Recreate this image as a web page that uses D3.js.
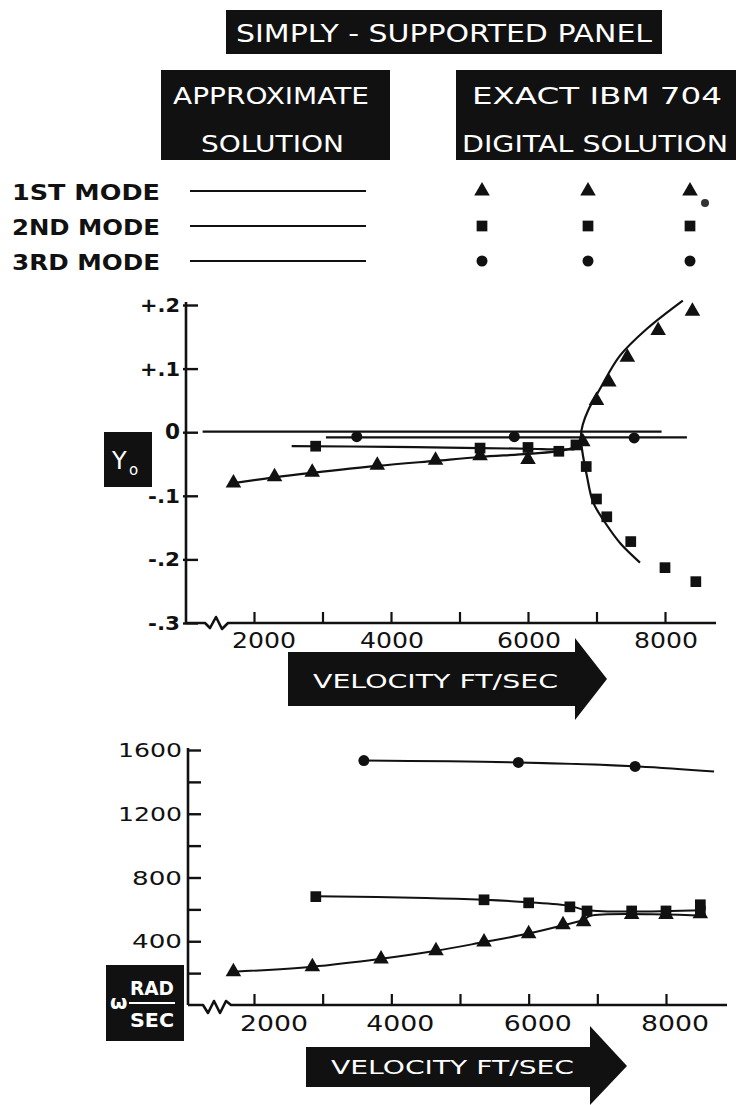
<!DOCTYPE html>
<html><head><meta charset="utf-8">
<script src="https://cdn.jsdelivr.net/npm/d3@7"></script>
<style>body{margin:0;background:#fff}text{font-family:"DejaVu Sans",sans-serif}</style>
</head><body>
<svg id="c" width="736" height="1105"></svg>
<script>
// ---------------- DATA ----------------
const velTicks = [2000, 3000, 4000, 5000, 6000, 7000, 8000];
const velLabels = [2000, 4000, 6000, 8000];
const y0Ticks = [0.2, 0.1, 0, -0.1, -0.2, -0.3];
const y0TickLabels = ["+.2", "+.1", "0", "-.1", "-.2", "-.3"];
const omegaTicks = [200, 400, 600, 800, 1000, 1200, 1400, 1600];
const omegaLabelVals = [400, 800, 1200, 1600];
const modeNames = ["1ST MODE", "2ND MODE", "3RD MODE"];

// Top chart: Y0 vs velocity (approximate solution lines)
const zeroLineTop = [[1250, 0.001], [7950, 0.001]];
const approx3Top = [[3050, -0.008], [8320, -0.008]];
const approx1Top = [[1700, -0.080], [2300, -0.071], [2850, -0.064], [3800, -0.053], [4650, -0.045],
  [5300, -0.039], [6000, -0.034], [6500, -0.029], [6700, -0.022], [6775, -0.008]];
const approx2Top = [[2550, -0.022], [4000, -0.023], [5300, -0.025], [6000, -0.026], [6500, -0.027],
  [6700, -0.026], [6778, -0.018]];
// coalesced branch (1st mode upper, 2nd mode lower)
const branchTop = [[8260, 0.207], [7740, 0.163], [7340, 0.120], [7050, 0.068], [6880, 0.035],
  [6800, 0.012], [6772, -0.006], [6790, -0.028], [6860, -0.069], [6950, -0.110], [7125, -0.142],
  [7350, -0.175], [7635, -0.205]];
// exact (IBM 704) points
const tri1Top = [[1700, -0.080], [2300, -0.070], [2850, -0.063], [3800, -0.052], [4650, -0.044],
  [5300, -0.037], [6000, -0.043], [6800, -0.015], [7000, 0.050], [7180, 0.079], [7450, 0.118], [7900, 0.160], [8400, 0.190]];
const sq2Top = [[2900, -0.022], [5300, -0.025], [6000, -0.024], [6450, -0.030], [6700, -0.020],
  [6850, -0.054], [7000, -0.105], [7150, -0.133], [7500, -0.172], [8000, -0.213], [8450, -0.235]];
const circ3Top = [[3500, -0.007], [5800, -0.007], [7550, -0.009]];

// Bottom chart: omega (rad/sec) vs velocity
const approx3Bot = [[3600, 1534], [5850, 1522], [7600, 1497], [8700, 1465]];
const approx2Bot = [[2900, 683], [4500, 672], [5350, 660], [6000, 645], [6600, 622], [6850, 595], [8550, 595]];
const approx1Bot = [[1700, 208], [2850, 240], [3850, 290], [4650, 340], [5350, 395], [6000, 448],
  [6500, 500], [6800, 535], [6900, 560], [8550, 560]];
const tri1Bot = [[1700, 208], [2850, 240], [3850, 289], [4650, 340], [5350, 396], [6000, 447], [6500, 503], [6800, 522],
  [7500, 568], [8000, 568], [8500, 572]];
const sq2Bot = [[2900, 680], [5350, 660], [6000, 641], [6600, 616], [6850, 590], [7500, 590], [8000, 590], [8500, 629], [8500, 590]];
const circ3Bot = [[3600, 1534], [5850, 1522], [7550, 1497]];

// ---------------- DRAW ----------------
const svg = d3.select("#c");
const INK = "#111";

function box(x, y, w, h) {
  svg.append("rect").attr("x", x).attr("y", y).attr("width", w).attr("height", h).attr("fill", INK);
}
function txt(s, x, y, opt) {
  opt = opt || {};
  const t = svg.append("text").attr("x", x).attr("y", y).text(s)
    .attr("fill", opt.fill || INK)
    .attr("font-size", opt.size || 20)
    .attr("font-weight", opt.weight || "normal")
    .attr("text-anchor", opt.anchor || "start");
  if (opt.len) t.attr("textLength", opt.len).attr("lengthAdjust", "spacingAndGlyphs");
  return t;
}

// Header boxes
box(226, 10, 436, 44);
txt("SIMPLY - SUPPORTED PANEL", 236, 42, {fill: "#fff", size: 24, len: 416});
box(161, 70, 229, 90);
txt("APPROXIMATE", 173, 104, {fill: "#fff", size: 23, len: 196});
txt("SOLUTION", 201, 152, {fill: "#fff", size: 23, len: 143});
box(456, 70, 280, 90);
txt("EXACT IBM 704", 472, 104, {fill: "#fff", size: 23, len: 250});
txt("DIGITAL SOLUTION", 462, 152, {fill: "#fff", size: 23, len: 266});

// Symbols
const symTri = d3.symbol().type(d3.symbolTriangle).size(105);
const symSq = d3.symbol().type(d3.symbolSquare).size(115);
const symCirc = d3.symbol().type(d3.symbolCircle).size(95);
const symbols = [symTri, symSq, symCirc];

// Legend
const legendY = d3.scalePoint().domain(modeNames).range([191, 261]);
const legendCols = [482, 588, 690];
modeNames.forEach((m, i) => {
  const y = legendY(m);
  txt(m, 12, y + 9, {size: 21, weight: "bold", len: 148});
  svg.append("line").attr("x1", 190).attr("x2", 366).attr("y1", y).attr("y2", y)
    .attr("stroke", INK).attr("stroke-width", 2);
  legendCols.forEach(cx => {
    svg.append("path").attr("d", symbols[i]()).attr("transform", `translate(${cx},${y})`).attr("fill", INK);
  });
});
svg.append("circle").attr("cx", 705).attr("cy", 203).attr("r", 4).attr("fill", "#333");

// ---------- Top chart ----------
const xT = d3.scaleLinear().domain([2000, 8000]).range([254, 665]);
const yT = d3.scaleLinear().domain([-0.3, 0.2]).range([623, 305]);
const axXTop = 186;

svg.append("line").attr("x1", axXTop).attr("x2", axXTop).attr("y1", yT(0.2) - 3).attr("y2", yT(-0.3))
  .attr("stroke", INK).attr("stroke-width", 2.6);
svg.append("g").attr("transform", `translate(${axXTop},0)`)
  .call(d3.axisRight(yT).tickValues(y0Ticks).tickSize(12).tickFormat(""))
  .call(g => g.select(".domain").remove())
  .call(g => g.selectAll(".tick line").attr("stroke", INK).attr("stroke-width", 2.4).attr("x1", -3));
y0Ticks.forEach((v, i) => {
  const lab = y0TickLabels[i];
  txt(lab, 180, yT(v) + 7, {size: lab === "0" ? 22 : 20, weight: "bold", anchor: "end",
    len: lab === "0" ? 15 : (lab[0] === "+" ? 40 : 32)});
});
const yAxT = yT(-0.3);
svg.append("path")
  .attr("d", `M${axXTop},${yAxT}H205L210,${yAxT + 5}L216,${yAxT - 6}L222,${yAxT + 6}L228,${yAxT}H716`)
  .attr("fill", "none").attr("stroke", INK).attr("stroke-width", 2.6).attr("stroke-linejoin", "round");
svg.append("g").attr("transform", `translate(0,${yAxT})`)
  .call(d3.axisBottom(xT).tickValues(velTicks).tickSize(-11).tickFormat(""))
  .call(g => g.select(".domain").remove())
  .call(g => g.selectAll(".tick line").attr("stroke", INK).attr("stroke-width", 2.2));
velLabels.forEach((v, i) => {
  txt(String(v), xT(v) + (i === 0 ? 10 : 1), 648, {size: 21, anchor: "middle", len: 64});
});

const lineT = d3.line().x(d => xT(d[0])).y(d => yT(d[1])).curve(d3.curveCatmullRom.alpha(0.5));
[zeroLineTop, approx3Top, approx1Top, approx2Top, branchTop].forEach(dat => {
  svg.append("path").attr("d", lineT(dat)).attr("fill", "none").attr("stroke", INK).attr("stroke-width", 2.2);
});
function marks(data, sym, xs, ys) {
  svg.append("g").selectAll("path").data(data).join("path")
    .attr("d", sym()).attr("fill", INK)
    .attr("transform", d => `translate(${xs(d[0])},${ys(d[1])})`);
}
marks(tri1Top, symTri, xT, yT);
marks(sq2Top, symSq, xT, yT);
marks(circ3Top, symCirc, xT, yT);

// Y0 label
box(104, 432, 48, 55);
txt("Y", 112, 469, {fill: "#fff", size: 24});
txt("o", 129, 475, {fill: "#fff", size: 15});

// Top velocity arrow
svg.append("path").attr("d", "M288,652H575V638L607,679L575,720V706H288Z").attr("fill", INK);
txt("VELOCITY FT/SEC", 313, 688, {fill: "#fff", size: 20, len: 245});

// ---------- Bottom chart ----------
const xB = d3.scaleLinear().domain([2000, 8000]).range([254, 666]);
const yB = d3.scaleLinear().domain([0, 1600]).range([1005, 750]);
const axXBot = 188;
svg.append("line").attr("x1", axXBot).attr("x2", axXBot).attr("y1", yB(1600) - 2).attr("y2", yB(0))
  .attr("stroke", INK).attr("stroke-width", 2.6);
svg.append("g").attr("transform", `translate(${axXBot},0)`)
  .call(d3.axisRight(yB).tickValues(omegaTicks).tickSize(13).tickFormat(""))
  .call(g => g.select(".domain").remove())
  .call(g => g.selectAll(".tick line").attr("stroke", INK).attr("stroke-width", 2.4));
omegaLabelVals.forEach(v => {
  const s = String(v);
  txt(s, 182, yB(v) + 7, {size: 20, anchor: "end", len: s.length === 4 ? 64 : 50});
});
const yAxB = yB(0);
svg.append("path")
  .attr("d", `M${axXBot},${yAxB}H203L208,${yAxB + 8}L214,${yAxB - 4}L220,${yAxB + 8}L226,${yAxB - 4}L231,${yAxB}H727`)
  .attr("fill", "none").attr("stroke", INK).attr("stroke-width", 2.6).attr("stroke-linejoin", "round");
svg.append("g").attr("transform", `translate(0,${yAxB})`)
  .call(d3.axisBottom(xB).tickValues(velTicks).tickSize(-11).tickFormat(""))
  .call(g => g.select(".domain").remove())
  .call(g => g.selectAll(".tick line").attr("stroke", INK).attr("stroke-width", 2.2));
velLabels.forEach((v, i) => {
  txt(String(v), xB(v) + (i === 0 ? 20 : 9), 1031, {size: 21, anchor: "middle", len: 68});
});

const lineB = d3.line().x(d => xB(d[0])).y(d => yB(d[1])).curve(d3.curveCatmullRom.alpha(0.5));
[approx3Bot, approx2Bot, approx1Bot].forEach(dat => {
  svg.append("path").attr("d", lineB(dat)).attr("fill", "none").attr("stroke", INK).attr("stroke-width", 2);
});
marks(tri1Bot, symTri, xB, yB);
marks(sq2Bot, symSq, xB, yB);
marks(circ3Bot, symCirc, xB, yB);

// omega label
box(106, 965, 78, 76);
txt("\u03c9", 110, 1009, {fill: "#fff", size: 20, weight: "bold"});
txt("RAD", 130, 995, {fill: "#fff", size: 19, weight: "bold", len: 44});
svg.append("line").attr("x1", 129).attr("x2", 175).attr("y1", 1003).attr("y2", 1003).attr("stroke", "#fff").attr("stroke-width", 2);
txt("SEC", 130, 1027, {fill: "#fff", size: 19, weight: "bold", len: 44});

// Bottom velocity arrow
svg.append("path").attr("d", "M306,1047H590V1026L627,1066L590,1105V1087H306Z").attr("fill", INK);
txt("VELOCITY FT/SEC", 331, 1074, {fill: "#fff", size: 20, len: 243});
</script>
</body></html>
